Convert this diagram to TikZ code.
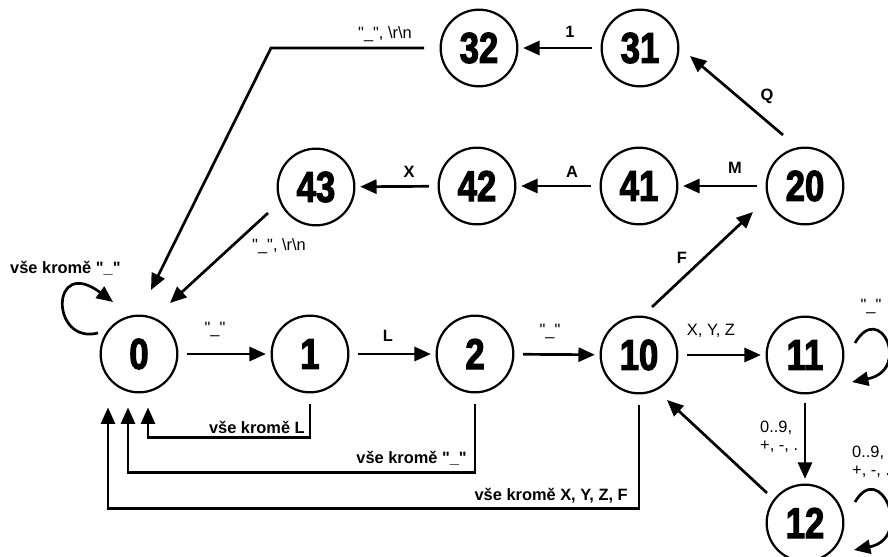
\documentclass[tikz,border=0pt]{standalone}
\usepackage{fontspec}
\setmainfont{Liberation Sans}
\newfontfamily\numfont{Liberation Sans}[FakeStretch=0.8,BoldFeatures={FakeBold=2.5}]
\usetikzlibrary{arrows.meta,calc}

% quoted underscore
\newcommand\qus{\textquotedbl\_\textquotedbl}

\tikzset{
  st/.style={circle,draw,line width=1.9pt,minimum size=2.3cm,inner sep=0pt,
    font=\numfont\bfseries\fontsize{37}{37}\selectfont},
  lbl/.style={inner sep=0pt,font=\fontsize{14}{15}\selectfont},
  blbl/.style={inner sep=0pt,font=\bfseries\fontsize{14}{15}\selectfont},
  edge/.style={->,line width=2.3pt},
  run/.style={edge,shorten <=7.5pt,shorten >=4pt},
}

\begin{document}
\begin{tikzpicture}[x=0.03cm,y=-0.03cm,>={Triangle[length=14pt,width=12pt]}]
\useasboundingbox (0,0) rectangle (888,557);
\clip (0,0) rectangle (888,557);

% states
\node[st] (s0) at (139,354) {0};
\node[st] (s1) at (310,354) {1};
\node[st] (s2) at (475,354) {2};
\node[st] (s10) at (639,355) {10};
\node[st] (s11) at (805,355) {11};
\node[st] (s12) at (805,523) {12};
\node[st] (s20) at (805,186) {20};
\node[st] (s41) at (639,186) {41};
\node[st] (s42) at (477,186) {42};
\node[st] (s43) at (316,187) {43};
\node[st] (s31) at (640,48) {31};
\node[st] (s32) at (479,48) {32};

% straight transitions
\draw[run] (s0) -- (s1);
\draw[run] (s1) -- (s2);
\draw[run] (s2) -- (s10);
\draw[run] (s10) -- (s11);
\draw[run] (s11) -- (s12);
\draw[run] (s20) -- (s41);
\draw[run] (s41) -- (s42);
\draw[run] (s42) -- (s43);
\draw[run] (s31) -- (s32);
\draw[edge] ($(s10)+(13,-48)$) -- ($(s20)+(-52,26)$);
\draw[edge] ($(s20)+(-22,-51)$) -- ($(s31)+(50,8)$);
\draw[edge] ($(s12)+(-38,-30)$) -- ($(s10)+(28,45)$);
\draw[edge] ($(s43)+(-48,26)$) -- ($(s0)+(31,-51)$);
\draw[edge] ($(s32)+(-55,0)$) -- ++(-153,0) -- ($(s0)+(12,-64)$);

% back to 0 from below
\draw[edge] ($(s1.south)+(0,11)$) -- ++(0,33) -| ($(s0.south)+(9,14)$);
\draw[edge] ($(s2.south)+(0,11)$) -- ++(0,68) -| ($(s0.south)+(-11,14)$);
\draw[edge] ($(s10.south)+(0,11)$) -- ++(0,103) -| ($(s0.south)+(-31,14)$);

% loops
\draw[edge] ($(s0)+(-41,-21)$) .. controls +(-48,12) and +(-63,-47) .. ($(s0)+(-26,-52)$);
\draw[edge] ($(s11)+(50,-12)$) .. controls +(25,-43) and +(60,-12) .. ($(s11)+(47,27)$);
\draw[edge] ($(s12)+(50,-21)$) .. controls +(25,-43) and +(60,-12) .. ($(s12)+(49,27)$);

% labels
\node[lbl] (t01) at (215,329) {\qus};
\node[blbl] (t12) at (388,336) {L};
\node[lbl] (t210) at (550,331) {\qus};
\node[lbl] (t1011) at (711,331) {X, Y, Z};
\node[blbl] (t1020) at (682,258) {F};
\node[blbl] (t2041) at (735,168) {M};
\node[blbl] (t2031) at (767,96) {Q};
\node[blbl] (t4142) at (572,172) {A};
\node[blbl] (t4243) at (409,172) {X};
\node[blbl] (t3132) at (570,32) {1};
\node[lbl,anchor=base east] (t320) at (412,38) {\qus, \textbackslash r\textbackslash n};
\node[lbl,anchor=base west] (t430) at (252,250) {\qus, \textbackslash r\textbackslash n};
\node[blbl,anchor=base west] (t00) at (10,273) {vše kromě \qus};
\node[blbl,anchor=base east] (t10) at (305,433) {vše kromě L};
\node[blbl,anchor=base east] (t20) at (467,463) {vše kromě \qus};
\node[blbl,anchor=base east] (t100) at (628,500) {vše kromě X, Y, Z, F};
\node[lbl,align=left,anchor=west] (t1112) at (760,437) {0..9,\\+, -, .};
\node[lbl] (t1111) at (871,306) {\qus};
\node[lbl,align=left,anchor=west] (t1212) at (852,462) {0..9,\\+, -, .};
\end{tikzpicture}
\end{document}
